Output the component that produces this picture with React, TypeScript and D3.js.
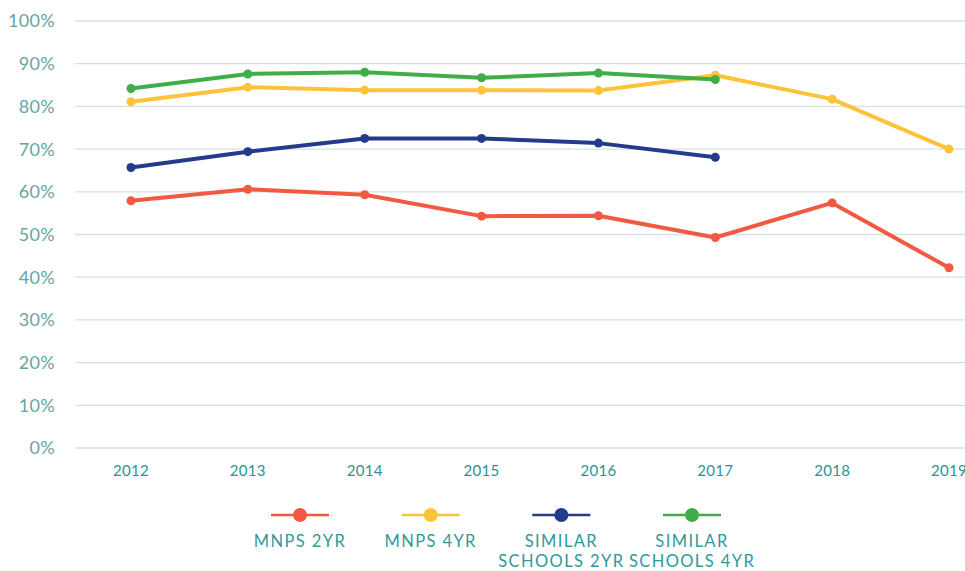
import React from "react";
import * as d3 from "d3";

const W = 965;
const H = 571;
const MARGIN = { top: 21, left: 75, bottom: 448 };

const YEARS = ["2012", "2013", "2014", "2015", "2016", "2017", "2018", "2019"];
const Y_TICKS = [0, 10, 20, 30, 40, 50, 60, 70, 80, 90, 100];

const MNPS_2YR = [57.9, 60.6, 59.3, 54.3, 54.4, 49.3, 57.4, 42.2];
const MNPS_4YR = [81.1, 84.5, 83.8, 83.8, 83.7, 87.3, 81.7, 70.0];
const SIMILAR_2YR = [65.7, 69.4, 72.5, 72.5, 71.4, 68.1];
const SIMILAR_4YR = [84.2, 87.6, 88.0, 86.7, 87.8, 86.3];

const SERIES_NAMES = [["MNPS 2YR"], ["MNPS 4YR"], ["SIMILAR", "SCHOOLS 2YR"], ["SIMILAR", "SCHOOLS 4YR"]];
const SERIES_COLORS = ["#f15a40", "#fec33b", "#243b8c", "#40ad49"];
const SERIES_VALUES = [MNPS_2YR, MNPS_4YR, SIMILAR_2YR, SIMILAR_4YR];

const FONT = "Lato, 'Open Sans', sans-serif";

export default function App() {
  const x = d3.scalePoint<string>().domain(YEARS).range([131, 949]);
  const y = d3.scaleLinear().domain([0, 100]).range([MARGIN.bottom, MARGIN.top]);
  const line = d3
    .line<number>()
    .x((_, i) => x(YEARS[i]) as number)
    .y((d) => y(d));

  const legendX = d3.scalePoint<number>().domain([0, 1, 2, 3]).range([300, 692]);

  // back-to-front: red, navy, yellow, green
  const order = [0, 2, 1, 3];

  return (
    <svg
      width={W}
      height={H}
      style={{ position: "absolute", left: 0, top: 0, background: "#fff" }}
      fontFamily={FONT}
    >
      {/* grid + y labels */}
      {Y_TICKS.map((t) => (
        <g key={t}>
          <line x1={MARGIN.left} x2={W} y1={y(t)} y2={y(t)} stroke="#d7e1e1" strokeWidth={1.3} />
          <text x={55} y={y(t)} dy="0.36em" textAnchor="end" fontSize={18} fill="#66a5a7" letterSpacing={0.3}>
            {t}%
          </text>
        </g>
      ))}

      {/* x labels */}
      {YEARS.map((yr) => (
        <text key={yr} x={x(yr)} y={476} textAnchor="middle" fontSize={15} fill="#2e9292" letterSpacing={0.3}>
          {yr}
        </text>
      ))}

      {/* series */}
      {order.map((si) => {
        const vals = SERIES_VALUES[si];
        const c = SERIES_COLORS[si];
        return (
          <g key={si}>
            <path d={line(vals) || ""} fill="none" stroke={c} strokeWidth={4} strokeLinejoin="round" />
            {vals.map((v, i) => (
              <circle key={i} cx={x(YEARS[i])} cy={y(v)} r={4.5} fill={c} />
            ))}
          </g>
        );
      })}

      {/* legend */}
      {SERIES_NAMES.map((name, i) => {
        const cx = legendX(i) as number;
        return (
          <g key={i}>
            <line x1={cx - 29} x2={cx + 29} y1={515} y2={515} stroke={SERIES_COLORS[i]} strokeWidth={2.5} />
            <circle cx={cx} cy={515} r={7} fill={SERIES_COLORS[i]} />
            {name.map((ln, j) => (
              <text
                key={j}
                x={cx}
                y={547 + j * 20}
                textAnchor="middle"
                fontSize={16.5}
                fill="#2e9a9a"
                letterSpacing={1.4}
              >
                {ln}
              </text>
            ))}
          </g>
        );
      })}
    </svg>
  );
}
